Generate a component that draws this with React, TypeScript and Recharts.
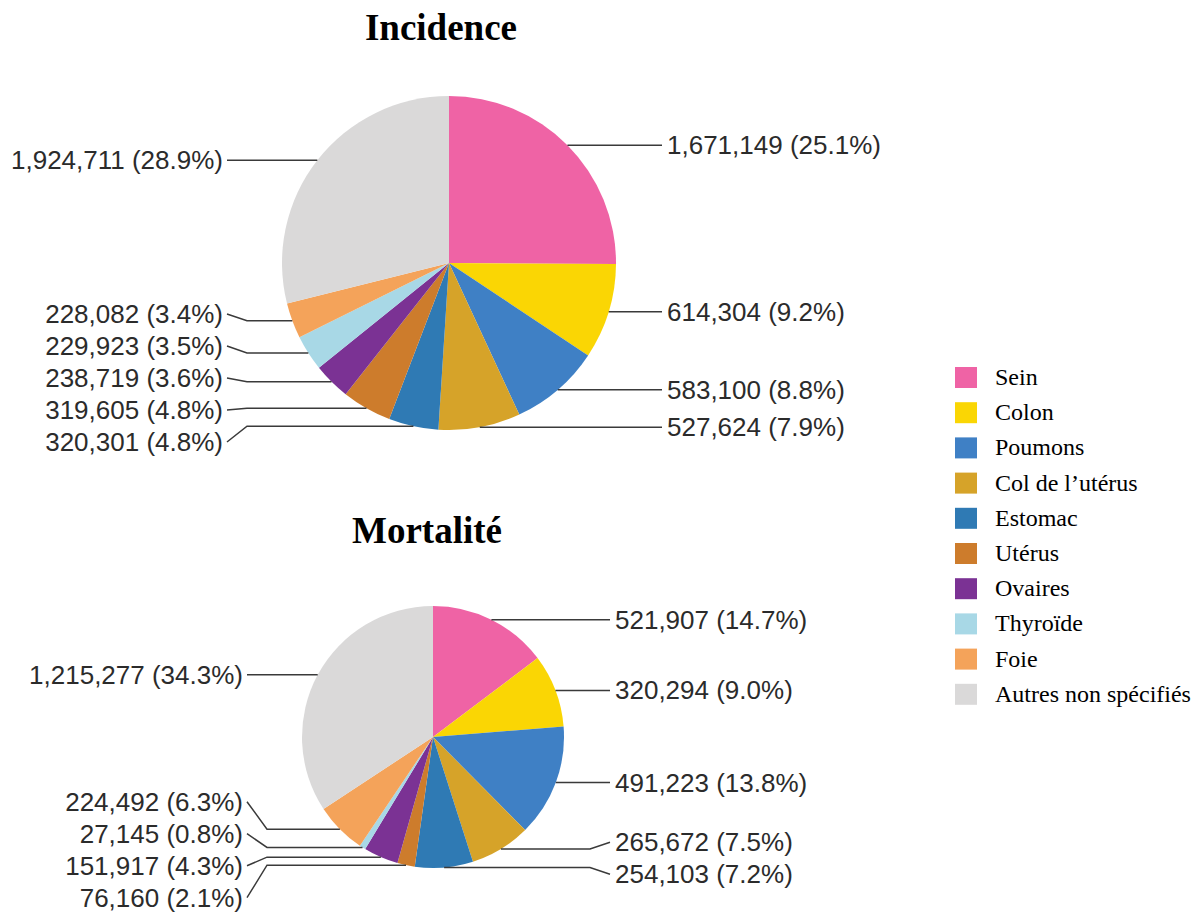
import { PieChart, Pie, Cell } from 'recharts';

const categories = [
  'Sein',
  'Colon',
  'Poumons',
  'Col de l’utérus',
  'Estomac',
  'Utérus',
  'Ovaires',
  'Thyroïde',
  'Foie',
  'Autres non spécifiés',
];

const colors = [
  '#ef63a5',
  '#fad604',
  '#3f80c5',
  '#d6a329',
  '#2f7ab4',
  '#cd7c2c',
  '#7b3294',
  '#a8d8e6',
  '#f4a35a',
  '#dad9d9',
];

const incidenceValues = [1671149, 614304, 583100, 527624, 320301, 319605, 238719, 229923, 228082, 1924711];
const mortalityValues = [521907, 320294, 491223, 265672, 254103, 76160, 151917, 27145, 224492, 1215277];

const incidenceData = categories.map((name, i) => ({ name, value: incidenceValues[i] }));
const mortalityData = categories.map((name, i) => ({ name, value: mortalityValues[i] }));

const W = 1194;
const H = 915;
const LABEL_GAP = 32;

// spread labels on each side so they don't overlap: overlapping groups are centred on their natural position
function layoutLabels(values: number[], cy: number, r: number) {
  const total = values.reduce((a, b) => a + b, 0);
  let acc = 0;
  const items = values.map((v, i) => {
    const mid = ((acc + v / 2) / total) * Math.PI * 2;
    acc += v;
    return { i, right: Math.sin(mid) >= 0, y: cy - r * Math.cos(mid) };
  });
  const ys: number[] = new Array(values.length).fill(0);
  [true, false].forEach((side) => {
    const list = items.filter((it) => it.right === side).sort((a, b) => a.y - b.y);
    let clusters = list.map((it) => ({ members: [it], top: it.y }));
    let merged = true;
    while (merged) {
      merged = false;
      for (let k = 0; k < clusters.length - 1; k++) {
        const a = clusters[k];
        const b = clusters[k + 1];
        if (a.top + a.members.length * LABEL_GAP > b.top) {
          const members = a.members.concat(b.members);
          const mean = members.reduce((s, m) => s + m.y, 0) / members.length;
          clusters.splice(k, 2, { members, top: mean - ((members.length - 1) * LABEL_GAP) / 2 });
          merged = true;
          break;
        }
      }
    }
    clusters.forEach((c) => c.members.forEach((m, j) => (ys[m.i] = c.top + j * LABEL_GAP)));
  });
  return { ys, right: items.map((it) => it.right) };
}

const makeLabel = (layout: { ys: number[]; right: boolean[] }) => (props: any) => {
  const { cx, cy, midAngle, outerRadius, index, value, percent } = props;
  const rad = Math.PI / 180;
  const px = cx + outerRadius * Math.cos(-midAngle * rad);
  const py = cy + outerRadius * Math.sin(-midAngle * rad);
  const right = layout.right[index];
  const ly = layout.ys[index];
  const x0 = right ? cx + outerRadius + 46 : cx - outerRadius - 55;
  const xe = right ? x0 - 20 : x0 + 20;
  const txt = `${Number(value).toLocaleString('en-US')} (${(percent * 100).toFixed(1)}%)`;
  return (
    <g key={`lbl-${index}`}>
      <path d={`M${px},${py} L${xe},${py} L${x0},${ly}`} fill="none" stroke="#3a3a3a" strokeWidth={1.5} />
      <text
        x={right ? x0 + 5 : x0 - 4}
        y={ly}
        textAnchor={right ? 'start' : 'end'}
        dominantBaseline="central"
        fontFamily="'Liberation Sans', Arial, sans-serif"
        fontSize={26}
        fill="#2b2b2b"
      >
        {txt}
      </text>
    </g>
  );
};

const INC = { cx: 449, cy: 263, r: 167 };
const MOR = { cx: 433, cy: 737, r: 131 };

export default function App() {
  const incLayout = layoutLabels(incidenceValues, INC.cy, INC.r);
  const morLayout = layoutLabels(mortalityValues, MOR.cy, MOR.r);

  return (
    <div style={{ position: 'absolute', left: 0, top: 0, width: W, height: H, background: '#fff' }}>
      <PieChart width={W} height={H} margin={{ top: 0, right: 0, bottom: 0, left: 0 }}>
        <Pie
          data={incidenceData}
          dataKey="value"
          nameKey="name"
          cx={INC.cx}
          cy={INC.cy}
          outerRadius={INC.r}
          startAngle={90}
          endAngle={-270}
          stroke="none"
          labelLine={false}
          label={makeLabel(incLayout)}
          isAnimationActive={false}
        >
          {incidenceData.map((d, i) => (
            <Cell key={d.name} fill={colors[i]} />
          ))}
        </Pie>
        <Pie
          data={mortalityData}
          dataKey="value"
          nameKey="name"
          cx={MOR.cx}
          cy={MOR.cy}
          outerRadius={MOR.r}
          startAngle={90}
          endAngle={-270}
          stroke="none"
          labelLine={false}
          label={makeLabel(morLayout)}
          isAnimationActive={false}
        >
          {mortalityData.map((d, i) => (
            <Cell key={d.name} fill={colors[i]} />
          ))}
        </Pie>
      </PieChart>
      <svg width={W} height={H} style={{ position: 'absolute', left: 0, top: 0, pointerEvents: 'none' }}>
        <text x={441} y={40} textAnchor="middle" fontFamily="'Liberation Serif', 'Times New Roman', serif" fontWeight="bold" fontSize={37} fill="#000">
          Incidence
        </text>
        <text x={427} y={543} textAnchor="middle" fontFamily="'Liberation Serif', 'Times New Roman', serif" fontWeight="bold" fontSize={37} fill="#000">
          Mortalité
        </text>
        {categories.map((c, i) => (
          <g key={c}>
            <rect x={955} y={367 + i * 35.2} width={22} height={21} fill={colors[i]} />
            <text x={995} y={385 + i * 35.2} fontFamily="'Liberation Serif', 'Times New Roman', serif" fontSize={24} fill="#000">
              {c}
            </text>
          </g>
        ))}
      </svg>
    </div>
  );
}
